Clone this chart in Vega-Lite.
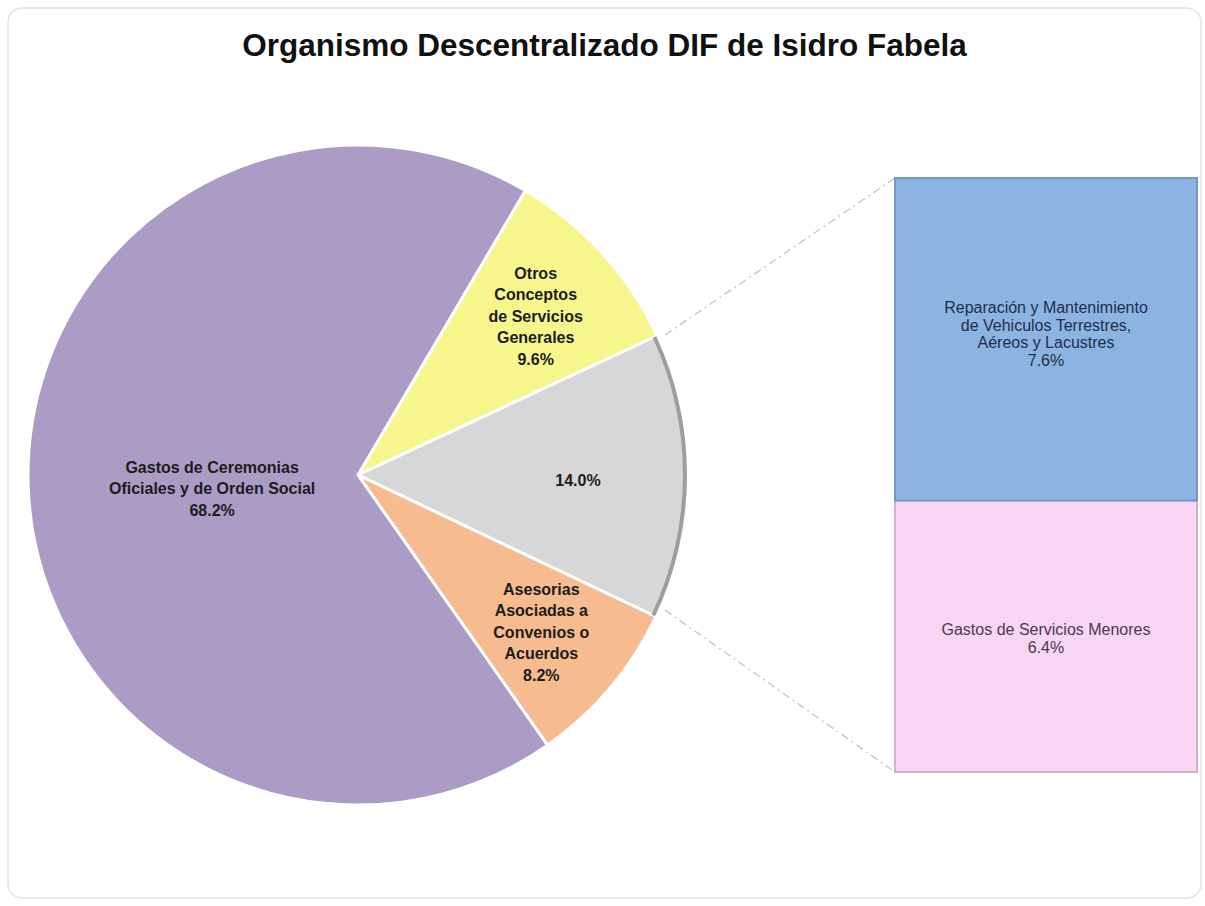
{
  "$schema": "https://vega.github.io/schema/vega-lite/v6.json",
  "width": 1193,
  "height": 890,
  "autosize": "none",
  "padding": {"left": 8, "top": 8, "right": 4, "bottom": 8},
  "background": "white",
  "config": {"view": {"stroke": "#e4e4e4", "strokeWidth": 1.5, "cornerRadius": 14}},
  "title": {
    "text": "Organismo Descentralizado DIF de Isidro Fabela",
    "font": "Liberation Sans",
    "fontSize": 31.5,
    "fontWeight": "bold",
    "color": "#111111",
    "anchor": "middle",
    "frame": "group",
    "baseline": "middle",
    "offset": -70
  },
  "datasets": {
    "pastel": [
      {"categoria": "Otros Conceptos de Servicios Generales", "etiqueta": "Otros\nConceptos\nde Servicios\nGenerales\n9.6%", "valor": 9.6, "orden": 1},
      {"categoria": "Otros", "etiqueta": "14.0%", "valor": 14.0, "orden": 2},
      {"categoria": "Asesorias Asociadas a Convenios o Acuerdos", "etiqueta": "Asesorias\nAsociadas a\nConvenios o\nAcuerdos\n8.2%", "valor": 8.2, "orden": 3},
      {"categoria": "Gastos de Ceremonias Oficiales y de Orden Social", "etiqueta": "Gastos de Ceremonias\nOficiales y de Orden Social\n68.2%", "valor": 68.2, "orden": 4}
    ],
    "barra": [
      {"grupo": "Otros", "categoria": "Gastos de Servicios Menores", "etiqueta": "Gastos de Servicios Menores\n6.4%", "valor": 6.4, "orden": 1},
      {"grupo": "Otros", "categoria": "Reparación y Mantenimiento de Vehiculos Terrestres, Aéreos y Lacustres", "etiqueta": "Reparación y Mantenimiento\nde Vehiculos Terrestres,\nAéreos y Lacustres\n7.6%", "valor": 7.6, "orden": 2}
    ]
  },
  "resolve": {"scale": {"color": "shared"}},
  "layer": [
    {
      "data": {"values": [{}]},
      "mark": {"type": "rule", "color": "#c4c4c4", "strokeWidth": 1.3, "strokeDash": [8, 4, 2, 4]},
      "encoding": {"x": {"value": 657}, "y": {"value": 327}, "x2": {"value": 887}, "y2": {"value": 170}}
    },
    {
      "data": {"values": [{}]},
      "mark": {"type": "rule", "color": "#c4c4c4", "strokeWidth": 1.3, "strokeDash": [8, 4, 2, 4]},
      "encoding": {"x": {"value": 657}, "y": {"value": 602}, "x2": {"value": 887}, "y2": {"value": 764}}
    },
    {
      "data": {"name": "pastel"},
      "mark": {"type": "arc", "stroke": "white", "strokeWidth": 3, "radius": 330},
      "encoding": {
        "x": {"value": 350},
        "y": {"value": 467},
        "theta": {"field": "valor", "type": "quantitative", "stack": true, "scale": {"range": [0.532, 6.815]}},
        "order": {"field": "orden", "type": "quantitative"},
        "color": {
          "field": "categoria", "type": "nominal", "legend": null,
          "scale": {
            "domain": ["Otros Conceptos de Servicios Generales", "Otros", "Asesorias Asociadas a Convenios o Acuerdos", "Gastos de Ceremonias Oficiales y de Orden Social", "Gastos de Servicios Menores", "Reparación y Mantenimiento de Vehiculos Terrestres, Aéreos y Lacustres"],
            "range": ["#f6f68c", "#d7d7d7", "#f6bb8e", "#aa9cc5", "#f8d6f3", "#8db3e0"]
          }
        }
      }
    },
    {
      "data": {"name": "pastel"},
      "mark": {"type": "arc", "radius": 329, "radius2": 325, "fill": "#9e9e9e"},
      "encoding": {
        "x": {"value": 350},
        "y": {"value": 467},
        "theta": {"field": "valor", "type": "quantitative", "stack": true},
        "order": {"field": "orden", "type": "quantitative"},
        "opacity": {"condition": {"test": "datum.orden == 2", "value": 1}, "value": 0}
      }
    },
    {
      "data": {"name": "pastel"},
      "mark": {"type": "text", "radius": 146, "dy": -13, "font": "Liberation Sans", "fontSize": 16, "fontWeight": "bold", "lineHeight": 21.5, "lineBreak": "\n", "align": "center", "baseline": "middle", "color": "#1c1c1c"},
      "encoding": {
        "x": {"value": 350},
        "y": {"value": 467},
        "theta": {"field": "valor", "type": "quantitative", "stack": true},
        "order": {"field": "orden", "type": "quantitative"},
        "text": {"condition": {"test": "datum.orden == 4", "field": "etiqueta"}, "value": ""}
      }
    },
    {
      "data": {"name": "pastel"},
      "mark": {"type": "text", "radius": 240, "dy": -40, "font": "Liberation Sans", "fontSize": 16, "fontWeight": "bold", "lineHeight": 21.5, "lineBreak": "\n", "align": "center", "baseline": "middle", "color": "#1c1c1c"},
      "encoding": {
        "x": {"value": 350},
        "y": {"value": 467},
        "theta": {"field": "valor", "type": "quantitative", "stack": true},
        "order": {"field": "orden", "type": "quantitative"},
        "text": {"condition": {"test": "datum.orden == 1 || datum.orden == 3", "field": "etiqueta"}, "value": ""}
      }
    },
    {
      "data": {"name": "pastel"},
      "mark": {"type": "text", "radius": 220, "dy": 5, "font": "Liberation Sans", "fontSize": 16, "fontWeight": "bold", "lineHeight": 21.5, "lineBreak": "\n", "align": "center", "baseline": "middle", "color": "#1c1c1c"},
      "encoding": {
        "x": {"value": 350},
        "y": {"value": 467},
        "theta": {"field": "valor", "type": "quantitative", "stack": true},
        "order": {"field": "orden", "type": "quantitative"},
        "text": {"condition": {"test": "datum.orden == 2", "field": "etiqueta"}, "value": ""}
      }
    },
    {
      "data": {"name": "barra"},
      "mark": {"type": "bar", "strokeWidth": 2},
      "encoding": {
        "x": {"field": "grupo", "type": "nominal", "axis": null, "scale": {"range": [887, 1189], "paddingInner": 0, "paddingOuter": 0}},
        "y": {"field": "valor", "type": "quantitative", "stack": "zero", "axis": null, "scale": {"domain": [0, 14], "range": [764, 170]}},
        "order": {"field": "orden", "type": "quantitative"},
        "color": {"field": "categoria", "type": "nominal", "legend": null},
        "stroke": {"field": "categoria", "type": "nominal", "legend": null, "scale": {"domain": ["Gastos de Servicios Menores", "Reparación y Mantenimiento de Vehiculos Terrestres, Aéreos y Lacustres"], "range": ["#cdb2cf", "#7198c8"]}}
      }
    },
    {
      "data": {"name": "barra"},
      "mark": {"type": "text", "font": "Liberation Sans", "fontSize": 16, "lineHeight": 17.5, "lineBreak": "\n", "align": "center", "baseline": "middle", "dy": 130},
      "encoding": {
        "x": {"field": "grupo", "type": "nominal"},
        "y": {"field": "valor", "type": "quantitative", "stack": "zero"},
        "order": {"field": "orden", "type": "quantitative"},
        "text": {"field": "etiqueta"},
        "color": {"condition": {"test": "datum.orden == 2", "value": "#1f2e4d"}, "value": "#4a3a4c"}
      }
    }
  ]
}
